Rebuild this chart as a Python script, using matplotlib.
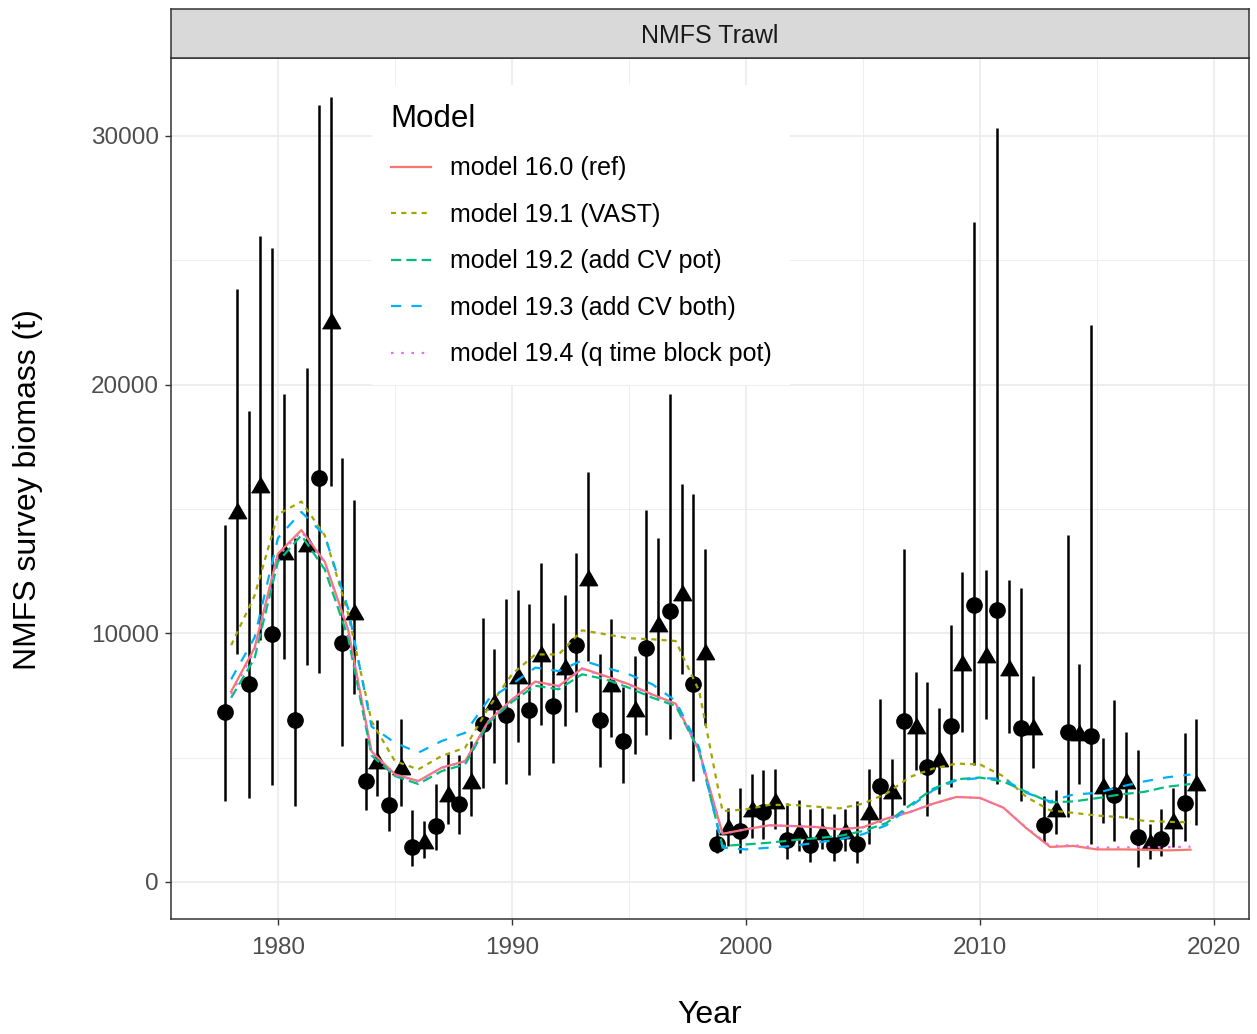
import matplotlib
matplotlib.use('Agg')
import matplotlib.pyplot as plt
import numpy as np

plt.rcParams['font.family'] = ['Liberation Sans', 'DejaVu Sans']

years = np.arange(1978, 2020)

# survey index, first series (circles)
circ_val = [6820, 7980, 9980, 6530, 16250, 9620, 4080, 3100, 1420, 2250,
            3150, 6340, 6700, 6900, 7080, 9510, 6510, 5670, 9390, 10900,
            7950, 1540, 2050, 2830, 1680, 1470, 1470, 1540, 3870, 6460,
            4630, 6290, 11140, 10930, 6190, 2280, 6050, 5890, 3490, 1800,
            1720, 3190]
circ_lo = [3240, 3370, 3890, 3070, 8420, 5450, 2880, 2050, 640, 1270,
           1920, 3770, 3950, 4290, 4800, 6830, 4620, 3990, 5900, 5740,
           4060, 1180, 1180, 1720, 910, 800, 840, 780, 2400, 3090,
           2670, 3830, 4720, 3940, 3240, 1620, 2620, 1540, 1660, 620,
           1030, 1660]
circ_hi = [14360, 18950, 25510, 13830, 31260, 17050, 5770, 4600, 2890, 3930,
           5090, 10630, 11360, 11160, 10430, 13210, 9150, 7840, 14950, 19630,
           15610, 2120, 3770, 4500, 3190, 2950, 2720, 3260, 7350, 13370,
           8040, 10320, 26520, 30310, 11830, 3460, 13950, 22390, 7310, 5310,
           2950, 6000]

# survey index, second series (triangles)
tri_val = [14820, 15870, 13200, 13510, 22460, 10780, 4780, 4530, 1580, 3460,
           3990, 7140, 8210, 9090, 8550, 12130, 7880, 6870, 10290, 11560,
           9150, 2120, 2850, 3190, 1980, 1940, 1980, 2720, 3580, 6190,
           4880, 8720, 9050, 8530, 6150, 2850, 5920, 3770, 3970, 1540,
           2390, 3920]
tri_lo = [9180, 9730, 8950, 8720, 15940, 7560, 3470, 3060, 980, 2320,
          2650, 4800, 5640, 6300, 6270, 8880, 5840, 5130, 7410, 8350,
          6300, 1450, 1780, 2120, 1250, 1310, 1250, 1510, 2570, 4510,
          3520, 6040, 6570, 5980, 4570, 1920, 3950, 2390, 2590, 920,
          1420, 2310]
tri_hi = [23830, 25980, 19620, 20670, 31550, 15370, 6530, 6540, 2450, 5130,
          5670, 9380, 11740, 12840, 11560, 16500, 10560, 9090, 13820, 15990,
          13400, 2990, 4330, 4560, 3280, 2990, 2920, 4560, 4950, 8460,
          6990, 12460, 12530, 12150, 8290, 3690, 8770, 5800, 6050, 2340,
          3770, 6570]

# model fits
m160 = [7660, 9410, 13200, 14150, 12880, 10150, 5250, 4330, 4060, 4600,
        4860, 6470, 7340, 8060, 7880, 8590, 8280, 7950, 7540, 7170,
        5270, 1940, 2120, 2280, 2250, 2210, 2120, 2200, 2550, 2810,
        3150, 3420, 3380, 2990, 2150, 1410, 1450, 1310, 1310, 1300,
        1270, 1300]
m191 = [9520, 11510, 14780, 15300, 13940, 10780, 6460, 4860, 4530, 5070,
        5400, 7010, 8350, 9150, 9150, 10120, 9960, 9800, 9760, 9690,
        7680, 2850, 2920, 3100, 3100, 3030, 2960, 3150, 3550, 4220,
        4560, 4760, 4730, 4250, 3410, 2880, 2780, 2670, 2610, 2460,
        2420, 2400]
m192 = [7410, 8990, 12880, 13940, 12570, 9830, 5090, 4260, 3940, 4460,
        4730, 6410, 7240, 7890, 7750, 8350, 8150, 7810, 7410, 7080,
        5270, 1450, 1510, 1580, 1680, 1760, 1850, 2050, 2370, 3080,
        3750, 4130, 4200, 4040, 3620, 3200, 3240, 3370, 3520, 3620,
        3830, 3940]
m193 = [8150, 9830, 13830, 14880, 13940, 10990, 6250, 5600, 5200, 5670,
        6000, 7340, 7950, 8620, 8480, 8910, 8620, 8350, 7950, 7280,
        5400, 1380, 1310, 1380, 1450, 1580, 1720, 1920, 2280, 3020,
        3690, 4090, 4180, 4150, 3580, 3240, 3520, 3580, 3830, 4040,
        4210, 4320]
m194 = [7550, 9300, 13100, 14100, 12850, 10100, 5200, 4300, 4050, 4580,
        4850, 6450, 7320, 8040, 7860, 8570, 8260, 7930, 7520, 7150,
        5250, 1940, 2120, 2280, 2250, 2210, 2120, 2200, 2550, 2810,
        3150, 3420, 3380, 2990, 2170, 1450, 1480, 1380, 1390, 1400,
        1400, 1420]

model_names = ['model 16.0 (ref)', 'model 19.1 (VAST)', 'model 19.2 (add CV pot)',
               'model 19.3 (add CV both)', 'model 19.4 (q time block pot)']
model_fits = [m160, m191, m192, m193, m194]
model_colors = ['#F8766D', '#A3A500', '#00BF7D', '#00B0F6', '#E76BF3']
model_dashes = [None, (2.3, 2.3), (4.6, 2.3), (4.6, 4.6), (1.15, 3.45)]

fig = plt.figure(figsize=(12.57, 10.34), dpi=100)
ax = fig.add_axes([171 / 1257, 1 - 919 / 1034, 1078 / 1257, 861 / 1034])

# grid
ax.set_axisbelow(True)
ax.set_xticks([1980, 1990, 2000, 2010, 2020])
ax.set_xticks([1975, 1985, 1995, 2005, 2015], minor=True)
ax.set_yticks([0, 10000, 20000, 30000])
ax.set_yticks([5000, 15000, 25000], minor=True)
ax.grid(which='major', color='#EBEBEB', lw=1.2)
ax.grid(which='minor', color='#EBEBEB', lw=0.6)
ax.tick_params(which='minor', length=0)
ax.tick_params(which='major', length=4.4, width=1, color='#333333',
               labelsize=17.5, labelcolor='#4D4D4D', pad=4.5)
ax.tick_params(axis='x', which='major', pad=8.5)
for s in ax.spines.values():
    s.set_color('#333333')
    s.set_linewidth(1.1)

# error bars + points
ax.vlines(years - 0.25, circ_lo, circ_hi, color='black', lw=1.8, zorder=3)
ax.vlines(years + 0.25, tri_lo, tri_hi, color='black', lw=1.8, zorder=3)
ax.plot(years - 0.25, circ_val, 'o', color='black', ms=11, zorder=4)
tri_marker = [(0, 1), (0.866, -0.5), (-0.866, -0.5)]
ax.plot(years + 0.25, tri_val, linestyle='none', marker=tri_marker,
        color='black', ms=15, zorder=4)

# model lines
for name, fit, col, dsh in zip(model_names, model_fits, model_colors, model_dashes):
    ln, = ax.plot(years, fit, color=col, lw=1.6, label=name, zorder=5)
    if dsh is not None:
        ln.set_dashes(dsh)

ax.set_xlim(1975.43, 2021.5)
ax.set_ylim(-1488, 33133)

leg = ax.legend(loc='upper left', bbox_to_anchor=(0.1865, 0.9686), borderaxespad=0,
                title='Model', alignment='left', fontsize=18, title_fontsize=22.5,
                frameon=True, facecolor='white', edgecolor='none', framealpha=1,
                fancybox=False, handlelength=1.6, handletextpad=0.76,
                labelspacing=0.9, borderpad=0.75)
leg.set_zorder(6)

# facet strip
sax = fig.add_axes([171 / 1257, 1 - 58 / 1034, 1078 / 1257, 49 / 1034])
sax.set_facecolor('#D9D9D9')
sax.set_xticks([])
sax.set_yticks([])
for s in sax.spines.values():
    s.set_color('#333333')
    s.set_linewidth(1.1)
sax.text(0.5, 0.44, 'NMFS Trawl', ha='center', va='center', fontsize=18,
         color='#1A1A1A', transform=sax.transAxes)

fig.text(710 / 1257, 1 - 1015 / 1034, 'Year', ha='center', va='center', fontsize=23)
fig.text(28 / 1257, 1 - 490 / 1034, 'NMFS survey biomass (t)', ha='center',
         va='center', rotation=90, fontsize=23)

plt.savefig('out.png', dpi=100)
plt.close()
